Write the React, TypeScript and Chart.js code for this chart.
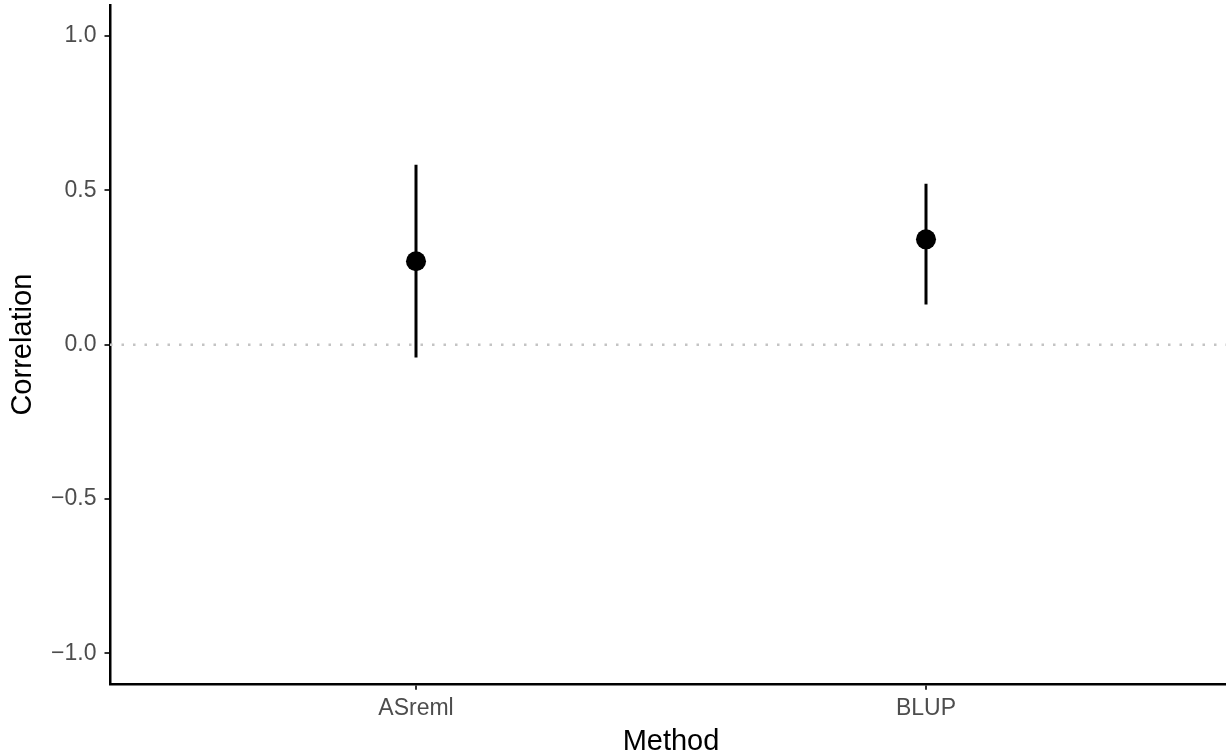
import React, { useEffect, useRef } from "react";
import { Chart, registerables } from "chart.js";

Chart.register(...registerables);

// ---- data ----
const categories = ["ASreml", "BLUP"];
const estimates = [0.27, 0.341];
const lowerCI = [-0.042, 0.13];
const upperCI = [0.583, 0.521];
const yTicks = [-1.0, -0.5, 0.0, 0.5, 1.0];
const referenceLines = [0];

const FONT = "'Liberation Sans', Arial, Helvetica, sans-serif";

export default function App() {
  const ref = useRef<HTMLCanvasElement>(null);

  useEffect(() => {
    const canvas = ref.current;
    if (!canvas) return;
    const xPos = categories.map((_, i) => i + 1);

    const errorSets = categories.map((c, i) => ({
      type: "line" as const,
      label: c + " CI",
      data: [
        { x: xPos[i], y: lowerCI[i] },
        { x: xPos[i], y: upperCI[i] },
      ],
      borderColor: "#000000",
      borderWidth: 3,
      pointRadius: 0,
      pointHoverRadius: 0,
      showLine: true,
      borderCapStyle: "butt" as const,
      order: 2,
    }));

    const pointSet = {
      type: "scatter" as const,
      label: "Correlation",
      data: categories.map((_, i) => ({ x: xPos[i], y: estimates[i] })),
      backgroundColor: "#000000",
      borderColor: "#000000",
      borderWidth: 0,
      pointRadius: 10,
      pointHoverRadius: 10,
      order: 1,
    };

    const refLinePlugin = {
      id: "refLines",
      beforeDatasetsDraw(chart: any) {
        const { ctx, chartArea, scales } = chart;
        ctx.save();
        ctx.strokeStyle = "#C4C4C4";
        ctx.lineWidth = 2.5;
        ctx.setLineDash([2.5, 9]);
        referenceLines.forEach((v) => {
          const y = scales.y.getPixelForValue(v);
          ctx.beginPath();
          ctx.moveTo(chartArea.left, y);
          ctx.lineTo(chartArea.right, y);
          ctx.stroke();
        });
        ctx.restore();
      },
    };

    const chart = new Chart(canvas, {
      type: "scatter",
      data: { datasets: [pointSet as any, ...(errorSets as any)] },
      options: {
        responsive: false,
        animation: false,
        layout: { autoPadding: false, padding: { top: 5, right: 0, bottom: 0, left: 0 } },
        plugins: {
          legend: { display: false },
          tooltip: { enabled: false },
        },
        scales: {
          x: {
            type: "linear",
            min: 0.4,
            max: 2.6,
            afterBuildTicks: (scale: any) => {
              scale.ticks = xPos.map((v) => ({ value: v }));
            },
            afterFit: (scale: any) => {
              scale.height = 68.7;
              scale.paddingLeft = 0;
              scale.paddingRight = 0;
            },
            ticks: {
              autoSkip: false,
              maxRotation: 0,
              minRotation: 0,
              padding: 4.8,
              color: "#4D4D4D",
              font: { family: FONT, size: 23 },
              callback: (v: any) => categories[Math.round(Number(v)) - 1] ?? "",
            },
            grid: {
              drawOnChartArea: false,
              drawTicks: true,
              tickLength: 5.5,
              lineWidth: 2,
              color: "#333333",
              tickColor: "#333333",
            },
            border: { display: true, color: "#000000", width: 2.5 },
            title: {
              display: true,
              text: "Method",
              color: "#000000",
              font: { family: FONT, size: 29, lineHeight: 0.76 },
              padding: { top: 0, bottom: 0 },
            },
          },
          y: {
            type: "linear",
            min: -1.1,
            max: 1.1,
            afterBuildTicks: (scale: any) => {
              scale.ticks = yTicks.map((v) => ({ value: v }));
            },
            afterFit: (scale: any) => {
              scale.width = 110;
              scale.paddingTop = 0;
              scale.paddingBottom = 0;
            },
            ticks: {
              autoSkip: false,
              padding: 8,
              color: "#4D4D4D",
              font: { family: FONT, size: 23 },
              callback: (v: any) => {
                const n = Number(v);
                return (n < 0 ? "\u2212" : "") + Math.abs(n).toFixed(1);
              },
            },
            grid: {
              drawOnChartArea: false,
              drawTicks: true,
              tickLength: 5.5,
              lineWidth: 2,
              color: "#333333",
              tickColor: "#333333",
            },
            border: { display: true, color: "#000000", width: 2.5 },
            title: {
              display: true,
              text: "Correlation",
              color: "#000000",
              font: { family: FONT, size: 29 },
              padding: { top: 5.6, bottom: 0 },
            },
          },
        },
      },
      plugins: [refLinePlugin],
    });

    return () => chart.destroy();
  }, []);

  return (
    <div
      style={{
        position: "fixed",
        left: 0,
        top: 0,
        width: "100vw",
        height: "100vh",
        overflow: "hidden",
        background: "#ffffff",
      }}
    >
      <canvas ref={ref} width={1232} height={753} style={{ display: "block" }} />
    </div>
  );
}
